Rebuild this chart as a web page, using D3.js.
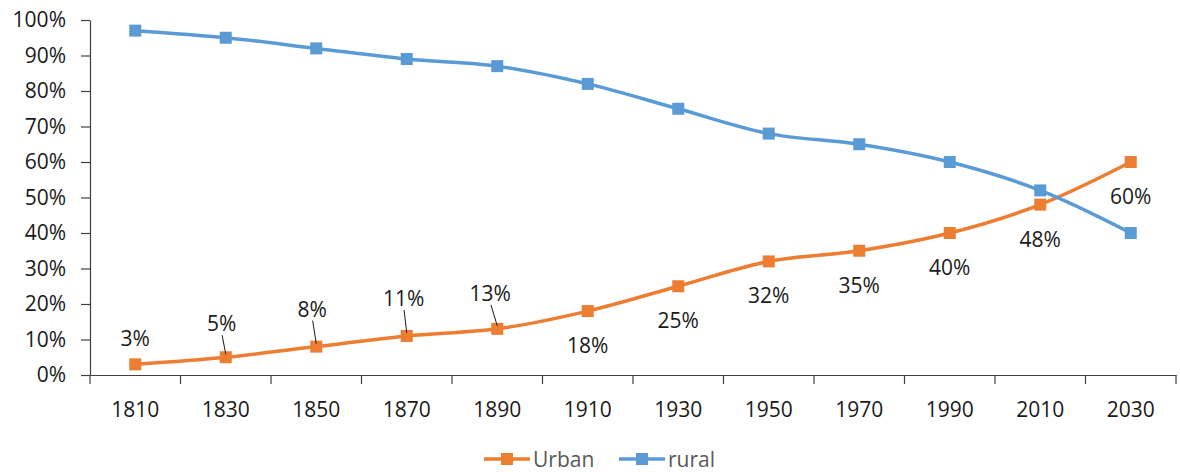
<!DOCTYPE html>
<html><head><meta charset="utf-8">
<script src="https://cdn.jsdelivr.net/npm/d3@7"></script>
<style>body{margin:0;background:#fff}svg{display:block}text{font-family:"Open Sans","Noto Sans",sans-serif}</style>
</head><body><svg id="c" width="1180" height="472"></svg>
<script>
const years = ["1810","1830","1850","1870","1890","1910","1930","1950","1970","1990","2010","2030"];
const urban = [3,5,8,11,13,18,25,32,35,40,48,60];
const rural = [97,95,92,89,87,82,75,68,65,60,52,40];
const yTicks = [0,10,20,30,40,50,60,70,80,90,100];
const seriesNames = ["Urban","rural"];
// label layout tweaks (dx, dy from point; leader flag)
const labelDy = [-26,-34,-38,-38,-36,34,34,34,34,34,34,34];
const labelDx = [0,-4,-4,-3,-7,0,0,0,0,0,0,0];
const leader = [false,true,true,true,true,false,false,false,false,false,false,false];

const svg = d3.select("#c");
const L = 90, R = 1176, T = 20, B = 375;
const FS = 21;
const x = d3.scaleBand().domain(years).range([L,R]);
const y = d3.scaleLinear().domain([0,100]).range([B,T]);
const colors = ["#ED7D31","#5B9BD5"];

// y axis
const ya = svg.append("g").attr("transform",`translate(${L},0)`)
  .call(d3.axisLeft(y).tickValues(yTicks).tickSize(9).tickSizeOuter(0).tickFormat(d=>d+"%"));
ya.selectAll("path,line").attr("stroke","#404040").attr("stroke-width",1.2);
ya.selectAll("text").attr("font-size",FS).attr("fill","#1a1a1a").attr("x",-24);

// x axis
const xa = svg.append("g").attr("transform",`translate(0,${B})`)
  .call(d3.axisBottom(x).tickSize(0).tickSizeOuter(0));
xa.select("path").attr("stroke","#404040").attr("stroke-width",1.2);
xa.selectAll("text").attr("font-size",FS).attr("fill","#1a1a1a").attr("y",42).attr("dy",0);
const bounds = years.map(d=>x(d)).concat([R]);
xa.selectAll("line.bt").data(bounds).enter().append("line")
  .attr("x1",d=>d).attr("x2",d=>d).attr("y1",0).attr("y2",9)
  .attr("stroke","#404040").attr("stroke-width",1.2);

const cx = d => x(d)+x.bandwidth()/2;
const line = d3.line().x((d,i)=>cx(years[i])).y(d=>y(d)).curve(d3.curveCatmullRom.alpha(0.5));

[urban,rural].forEach((s,k)=>{
  svg.append("path").datum(s).attr("d",line).attr("fill","none")
    .attr("stroke",colors[k]).attr("stroke-width",3.5);
  svg.selectAll(null).data(s).enter().append("rect")
    .attr("x",(d,i)=>cx(years[i])-6).attr("y",d=>y(d)-6)
    .attr("width",12).attr("height",12).attr("fill",colors[k]);
});

// data labels for urban
urban.forEach((v,i)=>{
  const px = cx(years[i]), py = y(v);
  const tx = px+labelDx[i], ty = py+labelDy[i];
  svg.append("text").attr("x",tx).attr("y",ty).attr("text-anchor","middle")
    .attr("dominant-baseline","central").attr("font-size",FS).attr("fill","#1a1a1a").text(v+"%");
  if(leader[i]){
    svg.append("line").attr("x1",tx+(px-tx)*0.1).attr("y1",ty+12).attr("x2",px).attr("y2",py-3)
      .attr("stroke","#1a1a1a").attr("stroke-width",1);
  }
});

// legend
const lg = [{x:484},{x:619}];
seriesNames.forEach((n,k)=>{
  const g = svg.append("g").attr("transform",`translate(${lg[k].x},459)`);
  g.append("line").attr("x1",0).attr("x2",46).attr("stroke",colors[k]).attr("stroke-width",3.5);
  g.append("rect").attr("x",17).attr("y",-6).attr("width",12).attr("height",12).attr("fill",colors[k]);
  g.append("text").attr("x",49).attr("y",0).attr("dominant-baseline","central")
    .attr("font-size",FS).attr("fill","#595959").text(n);
});
</script></body></html>
